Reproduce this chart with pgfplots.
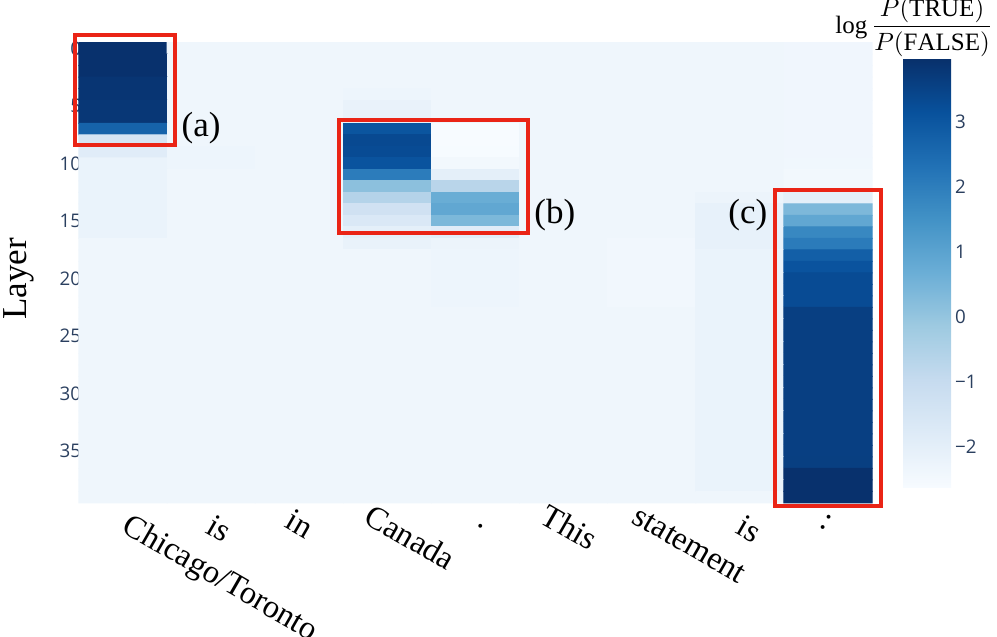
\documentclass[border=0pt]{standalone}
\usepackage{pgfplots}
\pgfplotsset{compat=1.18}
\usepackage{fontspec}
\setmainfont{Liberation Serif}
\newfontfamily\opensans{Open Sans}
\definecolor{tickcol}{RGB}{42,63,95}
\definecolor{boxred}{RGB}{234,36,22}
\pgfplotsset{colormap={blues}{rgb255=(247,251,255) rgb255=(222,235,247) rgb255=(198,219,239)
  rgb255=(158,202,225) rgb255=(107,174,214) rgb255=(66,146,198) rgb255=(33,113,181)
  rgb255=(8,81,156) rgb255=(8,48,107)}}
\begin{document}
\begin{tikzpicture}
\begin{axis}[
  scale only axis,
  width=317.2pt, height=184.1pt,
  xmin=-0.5, xmax=8.5, ymin=-0.5, ymax=39.5,
  y dir=reverse,
  axis line style={draw=none},
  major tick length=0pt,
  xtick={0,...,8},
  xticklabels={},
  ytick={0,5,...,35},
  yticklabel style={font=\opensans\fontsize{7.5}{9}\selectfont, color=tickcol, inner sep=0pt, xshift=1pt},
  /pgf/number format/assume math mode=true,
  ylabel={Layer},
  ylabel style={font=\fontsize{14}{16}\selectfont, at={(axis description cs:-0.076,0.487)}, anchor=center},
  colormap name=blues,
  point meta min=-2.62, point meta max=3.98,
  colorbar,
  colorbar/width=19.2pt,
  colorbar style={
    at={(parent axis.east)}, anchor=west, xshift=3.9pt,
    width=19.2pt, height=171.6pt,
    axis line style={draw=none},
    major tick length=0pt,
    ytick={-2,-1,0,1,2,3},
    yticklabels={−2,−1,0,1,2,3},
    yticklabel style={font=\opensans\fontsize{7.5}{9}\selectfont, color=tickcol, inner sep=0pt, anchor=west, xshift=1.4pt},
  },
  clip=false,
]
\addplot[matrix plot*, mesh/cols=9, point meta=explicit, shader=flat corner] coordinates {
(0,0) [3.95] (1,0) [-2.35] (2,0) [-2.35] (3,0) [-2.35] (4,0) [-2.35] (5,0) [-2.35] (6,0) [-2.35] (7,0) [-2.35] (8,0) [-2.38]

(0,1) [3.95] (1,1) [-2.35] (2,1) [-2.35] (3,1) [-2.35] (4,1) [-2.35] (5,1) [-2.35] (6,1) [-2.35] (7,1) [-2.35] (8,1) [-2.38]

(0,2) [3.95] (1,2) [-2.35] (2,2) [-2.35] (3,2) [-2.35] (4,2) [-2.35] (5,2) [-2.35] (6,2) [-2.35] (7,2) [-2.35] (8,2) [-2.38]

(0,3) [3.85] (1,3) [-2.35] (2,3) [-2.35] (3,3) [-2.35] (4,3) [-2.35] (5,3) [-2.35] (6,3) [-2.35] (7,3) [-2.35] (8,3) [-2.38]

(0,4) [3.85] (1,4) [-2.35] (2,4) [-2.35] (3,4) [-2.3] (4,4) [-2.35] (5,4) [-2.35] (6,4) [-2.35] (7,4) [-2.35] (8,4) [-2.38]

(0,5) [3.8] (1,5) [-2.35] (2,5) [-2.35] (3,5) [-2.15] (4,5) [-2.35] (5,5) [-2.35] (6,5) [-2.35] (7,5) [-2.35] (8,5) [-2.38]

(0,6) [3.8] (1,6) [-2.35] (2,6) [-2.35] (3,6) [-2.15] (4,6) [-2.35] (5,6) [-2.35] (6,6) [-2.35] (7,6) [-2.35] (8,6) [-2.38]

(0,7) [2.7] (1,7) [-2.35] (2,7) [-2.35] (3,7) [3.05] (4,7) [-2.62] (5,7) [-2.35] (6,7) [-2.35] (7,7) [-2.35] (8,7) [-2.38]

(0,8) [-1.5] (1,8) [-2.35] (2,8) [-2.35] (3,8) [3.35] (4,8) [-2.62] (5,8) [-2.35] (6,8) [-2.35] (7,8) [-2.35] (8,8) [-2.38]

(0,9) [-1.85] (1,9) [-2.3] (2,9) [-2.35] (3,9) [3.3] (4,9) [-2.6] (5,9) [-2.35] (6,9) [-2.35] (7,9) [-2.35] (8,9) [-2.38]

(0,10) [-2.2] (1,10) [-2.3] (2,10) [-2.35] (3,10) [3.1] (4,10) [-2.45] (5,10) [-2.35] (6,10) [-2.35] (7,10) [-2.35] (8,10) [-2.4]

(0,11) [-2.2] (1,11) [-2.35] (2,11) [-2.35] (3,11) [2.05] (4,11) [-2.0] (5,11) [-2.35] (6,11) [-2.35] (7,11) [-2.35] (8,11) [-2.45]

(0,12) [-2.2] (1,12) [-2.35] (2,12) [-2.35] (3,12) [0.15] (4,12) [-0.7] (5,12) [-2.35] (6,12) [-2.35] (7,12) [-2.35] (8,12) [-2.45]

(0,13) [-2.2] (1,13) [-2.35] (2,13) [-2.35] (3,13) [-0.6] (4,13) [0.72] (5,13) [-2.35] (6,13) [-2.35] (7,13) [-2.25] (8,13) [-2.0]

(0,14) [-2.2] (1,14) [-2.35] (2,14) [-2.35] (3,14) [-1.3] (4,14) [0.88] (5,14) [-2.35] (6,14) [-2.35] (7,14) [-2.1] (8,14) [0.39]

(0,15) [-2.2] (1,15) [-2.35] (2,15) [-2.35] (3,15) [-1.65] (4,15) [0.4] (5,15) [-2.35] (6,15) [-2.35] (7,15) [-2.1] (8,15) [0.88]

(0,16) [-2.2] (1,16) [-2.35] (2,16) [-2.35] (3,16) [-2.0] (4,16) [-1.85] (5,16) [-2.35] (6,16) [-2.35] (7,16) [-2.1] (8,16) [1.75]

(0,17) [-2.35] (1,17) [-2.35] (2,17) [-2.35] (3,17) [-2.15] (4,17) [-2.25] (5,17) [-2.35] (6,17) [-2.42] (7,17) [-2.1] (8,17) [2.08]

(0,18) [-2.35] (1,18) [-2.35] (2,18) [-2.35] (3,18) [-2.35] (4,18) [-2.3] (5,18) [-2.35] (6,18) [-2.42] (7,18) [-2.2] (8,18) [2.8]

(0,19) [-2.35] (1,19) [-2.35] (2,19) [-2.35] (3,19) [-2.35] (4,19) [-2.3] (5,19) [-2.35] (6,19) [-2.42] (7,19) [-2.2] (8,19) [3.1]

(0,20) [-2.35] (1,20) [-2.35] (2,20) [-2.35] (3,20) [-2.35] (4,20) [-2.3] (5,20) [-2.35] (6,20) [-2.42] (7,20) [-2.2] (8,20) [3.3]

(0,21) [-2.35] (1,21) [-2.35] (2,21) [-2.35] (3,21) [-2.35] (4,21) [-2.3] (5,21) [-2.35] (6,21) [-2.42] (7,21) [-2.2] (8,21) [3.3]

(0,22) [-2.35] (1,22) [-2.35] (2,22) [-2.35] (3,22) [-2.35] (4,22) [-2.3] (5,22) [-2.35] (6,22) [-2.42] (7,22) [-2.2] (8,22) [3.3]

(0,23) [-2.35] (1,23) [-2.35] (2,23) [-2.35] (3,23) [-2.35] (4,23) [-2.35] (5,23) [-2.35] (6,23) [-2.35] (7,23) [-2.2] (8,23) [3.6]

(0,24) [-2.35] (1,24) [-2.35] (2,24) [-2.35] (3,24) [-2.35] (4,24) [-2.35] (5,24) [-2.35] (6,24) [-2.35] (7,24) [-2.2] (8,24) [3.6]

(0,25) [-2.35] (1,25) [-2.35] (2,25) [-2.35] (3,25) [-2.35] (4,25) [-2.35] (5,25) [-2.35] (6,25) [-2.35] (7,25) [-2.2] (8,25) [3.6]

(0,26) [-2.35] (1,26) [-2.35] (2,26) [-2.35] (3,26) [-2.35] (4,26) [-2.35] (5,26) [-2.35] (6,26) [-2.35] (7,26) [-2.2] (8,26) [3.6]

(0,27) [-2.35] (1,27) [-2.35] (2,27) [-2.35] (3,27) [-2.35] (4,27) [-2.35] (5,27) [-2.35] (6,27) [-2.35] (7,27) [-2.2] (8,27) [3.6]

(0,28) [-2.35] (1,28) [-2.35] (2,28) [-2.35] (3,28) [-2.35] (4,28) [-2.35] (5,28) [-2.35] (6,28) [-2.35] (7,28) [-2.2] (8,28) [3.6]

(0,29) [-2.35] (1,29) [-2.35] (2,29) [-2.35] (3,29) [-2.35] (4,29) [-2.35] (5,29) [-2.35] (6,29) [-2.35] (7,29) [-2.2] (8,29) [3.6]

(0,30) [-2.35] (1,30) [-2.35] (2,30) [-2.35] (3,30) [-2.35] (4,30) [-2.35] (5,30) [-2.35] (6,30) [-2.35] (7,30) [-2.2] (8,30) [3.6]

(0,31) [-2.35] (1,31) [-2.35] (2,31) [-2.35] (3,31) [-2.35] (4,31) [-2.35] (5,31) [-2.35] (6,31) [-2.35] (7,31) [-2.2] (8,31) [3.6]

(0,32) [-2.35] (1,32) [-2.35] (2,32) [-2.35] (3,32) [-2.35] (4,32) [-2.35] (5,32) [-2.35] (6,32) [-2.35] (7,32) [-2.2] (8,32) [3.6]

(0,33) [-2.35] (1,33) [-2.35] (2,33) [-2.35] (3,33) [-2.35] (4,33) [-2.35] (5,33) [-2.35] (6,33) [-2.35] (7,33) [-2.2] (8,33) [3.6]

(0,34) [-2.35] (1,34) [-2.35] (2,34) [-2.35] (3,34) [-2.35] (4,34) [-2.35] (5,34) [-2.35] (6,34) [-2.35] (7,34) [-2.2] (8,34) [3.6]

(0,35) [-2.35] (1,35) [-2.35] (2,35) [-2.35] (3,35) [-2.35] (4,35) [-2.35] (5,35) [-2.35] (6,35) [-2.35] (7,35) [-2.2] (8,35) [3.6]

(0,36) [-2.35] (1,36) [-2.35] (2,36) [-2.35] (3,36) [-2.35] (4,36) [-2.35] (5,36) [-2.35] (6,36) [-2.35] (7,36) [-2.2] (8,36) [3.62]

(0,37) [-2.35] (1,37) [-2.35] (2,37) [-2.35] (3,37) [-2.35] (4,37) [-2.35] (5,37) [-2.35] (6,37) [-2.35] (7,37) [-2.2] (8,37) [3.95]

(0,38) [-2.35] (1,38) [-2.35] (2,38) [-2.35] (3,38) [-2.35] (4,38) [-2.35] (5,38) [-2.35] (6,38) [-2.35] (7,38) [-2.2] (8,38) [3.95]

(0,39) [-2.35] (1,39) [-2.35] (2,39) [-2.35] (3,39) [-2.35] (4,39) [-2.35] (5,39) [-2.35] (6,39) [-2.35] (7,39) [-2.35] (8,39) [3.95]
};
% token labels, each placed by hand as in the figure
\tikzset{tok/.style={rotate=-30, anchor=west, font=\fontsize{13}{15}\selectfont}}
\node[tok, xshift=1.2pt, yshift=-7.2pt] at (axis cs:0,39.5) {Chicago/Toronto};
\node[tok, xshift=0pt, yshift=-7.2pt] at (axis cs:1,39.5) {is};
\node[tok, xshift=-4.3pt, yshift=-7.2pt] at (axis cs:2,39.5) {in};
\node[tok, xshift=-8.2pt, yshift=-7.2pt] at (axis cs:3,39.5) {Canada};
\node[tok, xshift=1.2pt, yshift=-7.2pt] at (axis cs:4,39.5) {.};
\node[tok, xshift=-8.2pt, yshift=-7.2pt] at (axis cs:5,39.5) {This};
\node[tok, xshift=-7pt, yshift=-7.2pt] at (axis cs:6,39.5) {statement};
\node[tok, xshift=0.5pt, yshift=-7.2pt] at (axis cs:7,39.5) {is};
\node[tok, xshift=-2.2pt, yshift=-7.2pt] at (axis cs:8,39.5) {:};
% annotation boxes
\draw[boxred, line width=1.6pt] (axis cs:-0.545,-1.17) rectangle (axis cs:0.59,8.4);
\draw[boxred, line width=1.6pt] (axis cs:2.45,6.22) rectangle (axis cs:4.60,16.05);
\draw[boxred, line width=1.6pt] (axis cs:7.40,12.31) rectangle (axis cs:8.60,39.79);
\node[font=\fontsize{14}{16}\selectfont] at (axis cs:0.885,6.92) {(a)};
\node[font=\fontsize{14}{16}\selectfont] at (axis cs:4.90,14.5) {(b)};
\node[font=\fontsize{14}{16}\selectfont] at (axis cs:7.09,14.5) {(c)};
% colorbar title
\node[font=\fontsize{10}{12}\selectfont] at (rel axis cs:1.053,1.034) {$\log{\displaystyle\frac{P(\mathrm{TRUE})}{P(\mathrm{FALSE})}}$};
% page frame
\coordinate (bbsw) at (rel axis cs:-0.0996,-0.291);
\coordinate (bbne) at (rel axis cs:1.1576,1.0928);
\end{axis}
\pgfresetboundingbox
\path (bbsw) rectangle (bbne);
\end{tikzpicture}
\end{document}
